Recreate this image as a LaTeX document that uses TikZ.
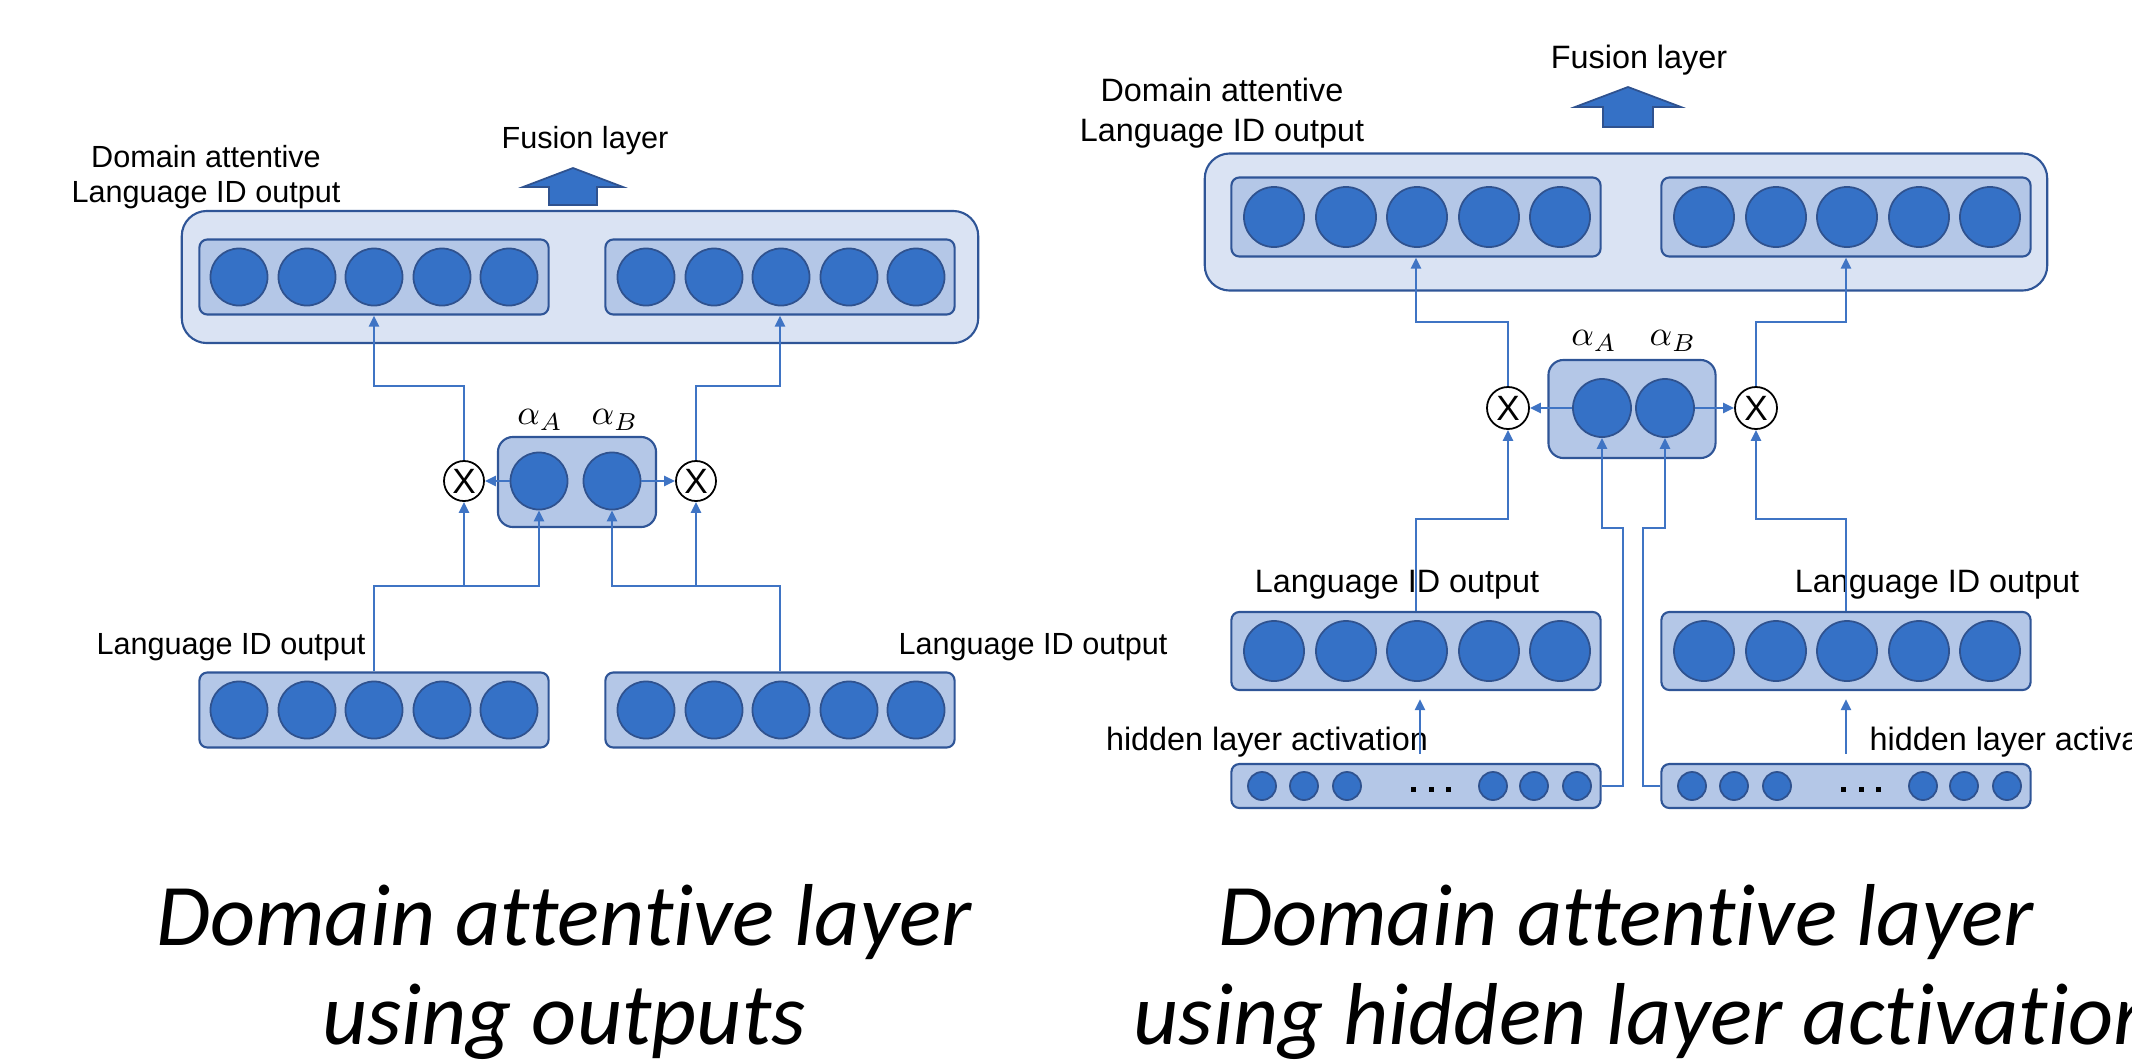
\documentclass[tikz,border=0pt]{standalone}
\usepackage{fontspec}
\setmainfont{Liberation Sans}
\newfontfamily\capfont[Ligatures={NoCommon}]{Carlito}
\usetikzlibrary{arrows.meta, positioning, calc}
\definecolor{daOuterF}{HTML}{DAE3F3}
\definecolor{daBoxF}{HTML}{B4C7E7}
\definecolor{daBoxS}{HTML}{2F5597}
\definecolor{daUnitF}{HTML}{3571C6}
\definecolor{daUnitS}{HTML}{2F528F}
\definecolor{daLine}{HTML}{3F74C4}
\tikzset{
  >={Triangle[length=1.1mm, width=1mm]},
  outerbox/.style={rectangle, rounded corners=0.25cm, draw=daBoxS, fill=daOuterF,
    line width=0.6pt, inner sep=0pt},
  layerbox/.style={rectangle, rounded corners=0.08cm, draw=daBoxS, fill=daBoxF,
    line width=0.6pt, inner sep=0pt},
  attbox/.style={layerbox, rounded corners=0.15cm},
  unit/.style={circle, draw=daUnitS, fill=daUnitF, line width=0.5pt,
    minimum size=0.57cm, inner sep=0pt},
  unitR/.style={unit, minimum size=0.6cm},
  smallunit/.style={unit, minimum size=0.28cm},
  mult/.style={circle, draw=black, fill=white, line width=0.5pt, inner sep=0pt,
    minimum size=0.4cm, font=\fontsize{10}{10}\selectfont},
  flow/.style={->, draw=daLine, line width=0.65pt},
  fusion/.style={draw=daUnitS, fill=daUnitF, line width=0.5pt},
  lbl/.style={font=\fontsize{8.7}{10}\selectfont, align=center, inner sep=0pt},
  lblR/.style={font=\fontsize{9.2}{11.4}\selectfont, align=center, inner sep=0pt},
  alpha/.style={font=\fontsize{10}{11}\selectfont, inner sep=0pt},
  caption/.style={font=\capfont\itshape\fontsize{25}{28.2}\selectfont, align=center, inner sep=0pt},
}
\begin{document}
\begin{tikzpicture}[x=0.01cm, y=-0.01cm]
  \useasboundingbox (0,0) rectangle (2132,1063);
  \clip (0,0) rectangle (2132,1063);

  % ---- Left: attention on the language ID outputs ---------------------------
  \node[outerbox, minimum width=7.96cm, minimum height=1.32cm] (outL) at (580,277) {};
  \node[layerbox, minimum width=3.49cm, minimum height=0.75cm] (daL1) at (374,277) {};
  \node[layerbox, minimum width=3.49cm, minimum height=0.75cm] (daL2) at (780,277) {};
  \node[layerbox, minimum width=3.49cm, minimum height=0.75cm] (lidL1) at (374,710) {};
  \node[layerbox, minimum width=3.49cm, minimum height=0.75cm] (lidL2) at (780,710) {};
  \foreach \x [count=\i] in {239,307,374,442,509} {
    \node[unit] (daL1u\i) at (\x,277) {};
    \node[unit] (daL2u\i) at (\x+407,277) {};
    \node[unit] (lidL1u\i) at (\x,710) {};
    \node[unit] (lidL2u\i) at (\x+407,710) {};
  }
  \node[attbox, minimum width=1.58cm, minimum height=0.9cm] (attL) at (577,482) {};
  \node[unit] (aLa) at (539,481) {};
  \node[unit] (aLb) at (612,481) {};
  \node[alpha] (alLa) at (540,420) {$\alpha_A$};
  \node[alpha] (alLb) at (615,420) {$\alpha_B$};
  \node[mult] (mxL1) at (464,481) {X};
  \node[mult] (mxL2) at (696,481) {X};

  \node[lbl] (domL) at (206,177) {Domain attentive\\Language ID output};
  \node[lbl] (fusLt) at (585,141) {Fusion layer};
  \node[lbl] (lidLt1) at (231,647) {Language ID output};
  \node[lbl] (lidLt2) at (1033,647) {Language ID output};
  \coordinate (fusL) at (573,168);
  \draw[fusion] (fusL) -- ++(50,19) -- ++(-26,0) -- ++(0,18) -- ++(-48,0)
    -- ++(0,-18) -- ++(-26,0) -- cycle;

  \coordinate (jL1) at (464,586);
  \coordinate (jL2) at (696,586);
  \draw[flow] (lidL1.north) |- (jL1) -| (aLa.south);
  \draw[flow] (jL1) -- (mxL1.south);
  \draw[flow] (lidL2.north) |- (jL2) -| (aLb.south);
  \draw[flow] (jL2) -- (mxL2.south);
  \draw[flow] (aLa) -- (mxL1);
  \draw[flow] (aLb) -- (mxL2);
  \draw[flow] (mxL1.north) -- ++(0,-74) -| (daL1.south);
  \draw[flow] (mxL2.north) -- ++(0,-74) -| (daL2.south);

  % ---- Right: attention on the hidden layer activations ---------------------
  \node[outerbox, minimum width=8.42cm, minimum height=1.37cm] (outR) at (1626,222) {};
  \node[layerbox, minimum width=3.69cm, minimum height=0.79cm] (daR1) at (1416,217) {};
  \node[layerbox, minimum width=3.69cm, minimum height=0.79cm] (daR2) at (1846,217) {};
  \node[layerbox, minimum width=3.69cm, minimum height=0.78cm] (lidR1) at (1416,651) {};
  \node[layerbox, minimum width=3.69cm, minimum height=0.78cm] (lidR2) at (1846,651) {};
  \node[layerbox, minimum width=3.69cm, minimum height=0.44cm] (hidR1) at (1416,786) {};
  \node[layerbox, minimum width=3.69cm, minimum height=0.44cm] (hidR2) at (1846,786) {};
  \foreach \x [count=\i] in {1274,1346,1417,1489,1560} {
    \node[unitR] (daR1u\i) at (\x,217) {};
    \node[unitR] (daR2u\i) at (\x+430,217) {};
    \node[unitR] (lidR1u\i) at (\x,651) {};
    \node[unitR] (lidR2u\i) at (\x+430,651) {};
  }
  \foreach \x [count=\i] in {1262,1304,1347,1493,1534,1577} {
    \node[smallunit] (hidR1u\i) at (\x,786) {};
    \node[smallunit] (hidR2u\i) at (\x+430,786) {};
  }
  \foreach \x in {1413,1431,1448} {
    \fill (\x-2.5,787) rectangle ++(5,5);
    \fill (\x+427.5,787) rectangle ++(5,5);
  }
  \node[attbox, minimum width=1.67cm, minimum height=0.98cm] (attR) at (1632,409) {};
  \node[unit, minimum size=0.58cm] (aRa) at (1602,408) {};
  \node[unit, minimum size=0.58cm] (aRb) at (1665,408) {};
  \node[alpha] (alRa) at (1594,341) {$\alpha_A$};
  \node[alpha] (alRb) at (1673,341) {$\alpha_B$};
  \node[mult, minimum size=0.42cm] (mxR1) at (1508,408) {X};
  \node[mult, minimum size=0.42cm] (mxR2) at (1756,408) {X};

  \node[lblR] (domR) at (1222,113) {Domain attentive\\Language ID output};
  \node[lblR] (fusRt) at (1639,60) {Fusion layer};
  \node[lblR] (lidRt1) at (1397,585) {Language ID output};
  \node[lblR] (lidRt2) at (1937,585) {Language ID output};
  \node[lblR] (hidRt1) at (1267,742) {hidden layer activation};
  \node[lblR, anchor=west] (hidRt2) at (1869,742) {hidden layer activation};
  \coordinate (fusR) at (1628,87);
  \draw[fusion] (fusR) -- ++(53,20) -- ++(-28,0) -- ++(0,20) -- ++(-50,0)
    -- ++(0,-20) -- ++(-28,0) -- cycle;

  \draw[flow] (aRa) -- (mxR1);
  \draw[flow] (aRb) -- (mxR2);
  \draw[flow] (mxR1.north) -- ++(0,-64) -| (daR1.south);
  \draw[flow] (mxR2.north) -- ++(0,-64) -| (daR2.south);
  \draw[flow] (lidR1.north) -- ++(0,-92) -| (mxR1.south);
  \draw[flow] (lidR2.north) -- ++(0,-92) -| (mxR2.south);
  \draw[flow] ($(hidR1.north)+(4,-9)$) -- ($(lidR1.south)+(4,8)$);
  \draw[flow] ($(hidR2.north)+(0,-9)$) -- ($(lidR2.south)+(0,8)$);
  % hidden activations feed the attention units from the sides
  \draw[flow] (hidR1.east) -- ++(21,0) -- ++(0,-258) -| (aRa.south);
  \draw[flow] (hidR2.west) -- ++(-17,0) -- ++(0,-258) -| (aRb.south);

  % ---- Captions --------------------------------------------------------------
  \node[caption] (capL) at (564,972) {Domain attentive layer\\using outputs};
  \node[caption] (capR1) at (1626,922) {Domain attentive layer};
  \node[caption, anchor=west] (capR2) at (1133,1021) {using hidden layer activation};

\end{tikzpicture}
\end{document}
